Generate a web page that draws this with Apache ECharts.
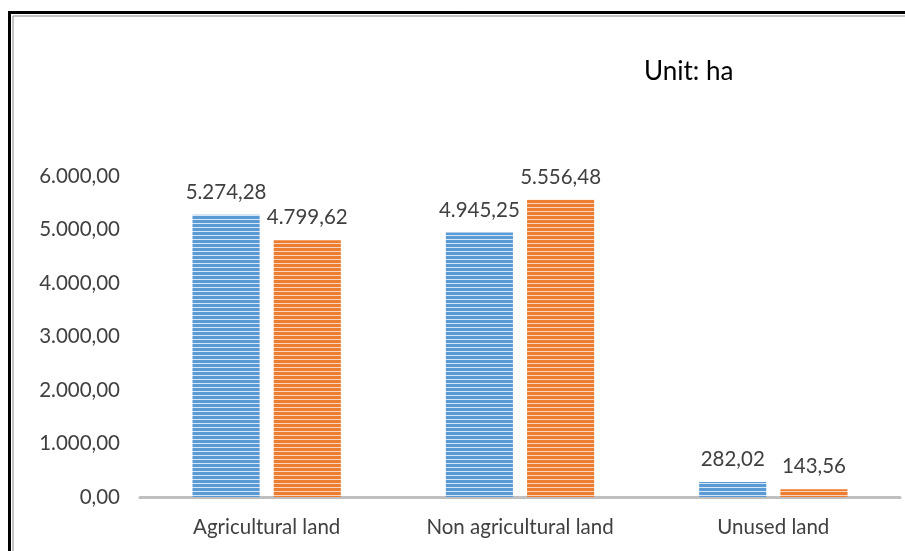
<!DOCTYPE html>
<html>
<head>
<meta charset="utf-8">
<script src="https://cdn.jsdelivr.net/npm/echarts@6/dist/echarts.min.js"></script>
<style>html,body{margin:0;padding:0;background:#fff;}#c{width:905px;height:551px;}</style>
</head>
<body>
<div id="c"></div>
<script>
var categories = ['Agricultural land', 'Non agricultural land', 'Unused land'];
var seriesA = [5274.28, 4945.25, 282.02];
var seriesB = [4799.62, 5556.48, 143.56];
var yTicks = [0, 1000, 2000, 3000, 4000, 5000, 6000];

function fmt(v) {
  var s = Number(v).toFixed(2);
  var parts = s.split('.');
  var ip = parts[0].replace(/\B(?=(\d{3})+(?!\d))/g, '.');
  return ip + ',' + parts[1];
}
function stripe(base, line) {
  var c = document.createElement('canvas');
  c.width = 4; c.height = 4;
  var g = c.getContext('2d');
  g.fillStyle = base; g.fillRect(0, 0, 4, 4);
  g.fillStyle = line; g.fillRect(0, 3, 4, 1);
  return { image: c, repeat: 'repeat' };
}
var FONT = 'Lato';
var chart = echarts.init(document.getElementById('c'), null, { renderer: 'canvas' });
chart.setOption({
  backgroundColor: '#fff',
  animation: false,
  grid: { left: 140, right: 5, top: 176, bottom: 54, containLabel: false },
  graphic: [
    { type: 'rect', shape: { x: 9.5, y: 12.5, width: 1000, height: 1000 }, style: { fill: 'none', stroke: '#000', lineWidth: 3 } },
    { type: 'rect', shape: { x: 13, y: 16, width: 1000, height: 1000 }, style: { fill: 'none', stroke: '#888', lineWidth: 1 } },
    { type: 'text', left: 644, top: 59, style: { text: 'Unit: ha', fontSize: 26, fontFamily: FONT, fill: '#000' } }
  ],
  xAxis: {
    type: 'category', data: categories,
    axisLine: { lineStyle: { color: '#bfbfbf', width: 3 } },
    axisTick: { show: false },
    axisLabel: { fontSize: 20.5, fontFamily: FONT, color: '#404040', margin: 20 }
  },
  yAxis: {
    type: 'value', min: 0, max: 6000, interval: 1000,
    axisLine: { show: false }, axisTick: { show: false }, splitLine: { show: false },
    axisLabel: { fontSize: 20.5, fontFamily: FONT, color: '#404040', margin: 20, formatter: function (v) { return fmt(v); } }
  },
  series: [
    { type: 'bar', data: seriesA, barWidth: '26.5%', barGap: '21%',
      itemStyle: { color: stripe('#5b9bd5', '#d6e6f5') },
      label: { show: true, position: 'top', distance: 12, fontSize: 20.5, fontFamily: FONT, color: '#404040', formatter: function (p) { return fmt(p.value); } } },
    { type: 'bar', data: seriesB, barWidth: '26.5%', barGap: '21%',
      itemStyle: { color: stripe('#ed7d31', '#f9d5bd') },
      label: { show: true, position: 'top', distance: 12, fontSize: 20.5, fontFamily: FONT, color: '#404040', formatter: function (p) { return fmt(p.value); } } }
  ]
});
</script>
</body>
</html>
